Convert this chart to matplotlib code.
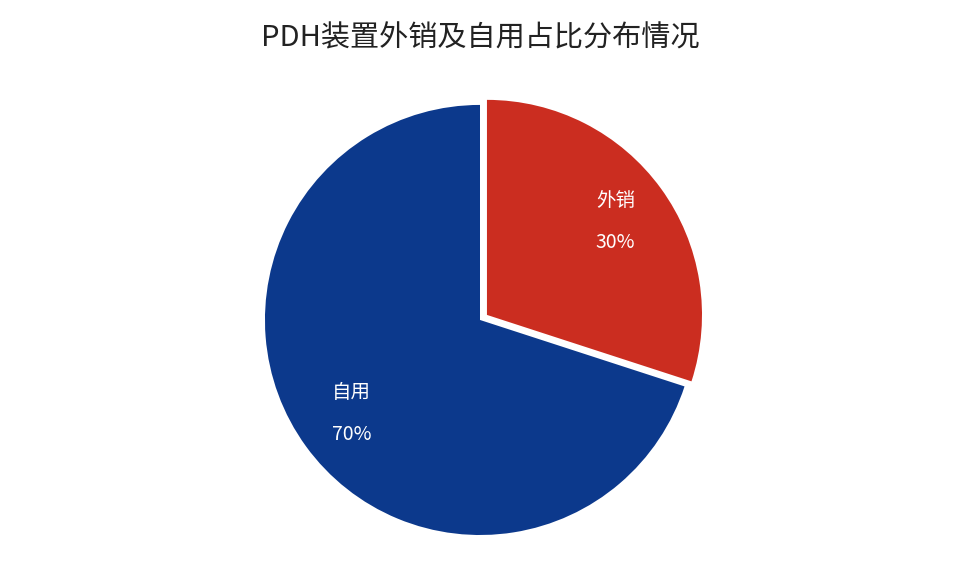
import matplotlib.pyplot as plt
import numpy as np

plt.rcParams['font.family'] = ['Noto Sans CJK SC', 'DejaVu Sans']

labels = ['外销', '自用']
shares = [30, 70]
colors = ['#CB2D20', '#0C398C']

fig = plt.figure(figsize=(9.6, 5.76), dpi=100)
ax = fig.add_axes([0.276, 0.071, 0.448, 0.747])

wedges, texts = ax.pie(
    shares,
    colors=colors,
    startangle=90,
    counterclock=False,
    explode=[0.04, 0],
    wedgeprops=dict(linewidth=0),
)
for w in wedges:
    w.set_clip_on(False)

for w, lab, val in zip(wedges, labels, shares):
    ang = np.deg2rad((w.theta1 + w.theta2) / 2)
    cx, cy = w.center
    r = 0.74
    ax.text(cx + r * np.cos(ang), cy + r * np.sin(ang), f'{lab}\n\n{val}%',
            ha='center', va='center', color='white', fontsize=14,
            fontweight='medium', linespacing=1.0)

ax.set_aspect('equal')
ax.set_xlim(-1, 1)
ax.set_ylim(-1, 1)
ax.axis('off')
fig.suptitle('PDH装置外销及自用占比分布情况', y=0.96, fontsize=21, color='#222222')

plt.savefig('out.png', dpi=100)
